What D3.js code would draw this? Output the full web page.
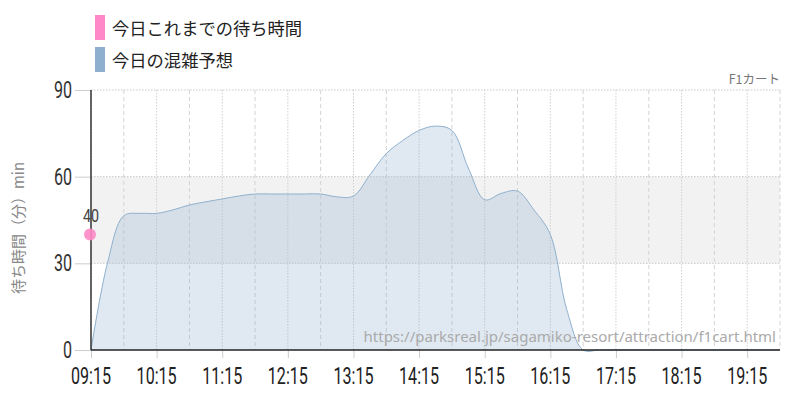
<!DOCTYPE html>
<html><head><meta charset="utf-8">
<script src="https://cdn.jsdelivr.net/npm/d3@7"></script>
<style>body{margin:0;background:#fff}svg{display:block}</style>
</head><body>
<svg id="c" width="800" height="400"></svg>
<script>
const forecastTimes = ["09:15","09:30","09:45","10:00","10:15","10:30","10:45","11:00","11:15","11:30","11:45","12:00","12:15","12:30","12:45","13:00","13:15","13:30","13:45","14:00","14:15","14:30","14:45","15:00","15:15","15:30","15:45","16:00","16:15","16:30","16:45","17:00","17:15","17:30","17:45","18:00","18:15","18:30","18:45","19:00","19:15","19:30","19:45"];
const forecastValues = [0,30,46.5,47.3,47.3,48.5,50.2,51.3,52.3,53.3,54,54,54,54,54,53,53.3,60.6,68,72.5,76,77.5,76,63,52,54.2,55,48.5,40,14,0,0,0,0,0,0,0,0,0,0,0,0,0];
const actualTimes = ["09:15"];
const actualValues = [40];
const xTickLabels = ["09:15","10:15","11:15","12:15","13:15","14:15","15:15","16:15","17:15","18:15","19:15"];
const halfHourLines = ["09:45","10:45","11:45","12:45","13:45","14:45","15:45","16:45","17:45","18:45","19:45"];
const yTicks = [0,30,60,90];
const legendLabels = ["今日これまでの待ち時間","今日の混雑予想"];
const legendColors = ["#ff88c8","#8eb0ce"];
const attractionName = "F1カート";
const yTitle = "待ち時間（分）min";
const sourceUrl = "https://parksreal.jp/sagamiko-resort/attraction/f1cart.html";

const parse = d3.timeParse("%H:%M");
const svg = d3.select("#c");
const m = {l:91, r:780, t:90, b:350};
const x = d3.scaleTime().domain([parse("09:15"), parse("19:45")]).range([m.l, m.r]);
const y = d3.scaleLinear().domain([0,90]).range([m.b, m.t]);
const cond = "Roboto, 'Liberation Sans', sans-serif";

// band
svg.append("rect").attr("x", m.l).attr("width", m.r-m.l)
  .attr("y", y(60)).attr("height", y(30)-y(60)).attr("fill","#f2f2f2");

// horizontal grid
const yAxis = d3.axisLeft(y).tickValues(yTicks).tickSize(16).tickFormat("");
const gy = svg.append("g").attr("transform",`translate(${m.l},0)`).call(yAxis);
gy.select(".domain").remove();
gy.selectAll(".tick line").attr("stroke","#ccc");
svg.append("g").selectAll("line").data(yTicks.filter(v=>v>0)).join("line")
  .attr("x1",m.l).attr("x2",m.r).attr("y1",d=>y(d)).attr("y2",d=>y(d))
  .attr("stroke","#c8c8c8").attr("stroke-dasharray","1.5,1.5");
svg.append("g").selectAll("text").data(yTicks).join("text")
  .attr("transform",d=>`translate(72,${y(d)+8}) scale(0.7,1)`)
  .attr("text-anchor","end").attr("font-family",cond).attr("font-size",23)
  .attr("fill","#333").text(d=>d);

// vertical grid
svg.append("g").selectAll("line").data(xTickLabels).join("line")
  .attr("x1",d=>x(parse(d))).attr("x2",d=>x(parse(d))).attr("y1",m.t).attr("y2",m.b)
  .attr("stroke","#cfcfcf").attr("stroke-dasharray","1.5,1.5");
svg.append("g").selectAll("line").data(halfHourLines).join("line")
  .attr("x1",d=>x(parse(d))).attr("x2",d=>x(parse(d))).attr("y1",m.t).attr("y2",m.b)
  .attr("stroke","#d4d4d4").attr("stroke-dasharray","4,3");

// x axis ticks
const xAxis = d3.axisBottom(x).tickValues(xTickLabels.map(parse)).tickSize(8).tickFormat("");
const gx = svg.append("g").attr("transform",`translate(0,${m.b})`).call(xAxis);
gx.select(".domain").remove();
gx.selectAll(".tick line").attr("stroke","#ccc");
svg.append("g").selectAll("text").data(xTickLabels).join("text")
  .attr("transform",d=>`translate(${x(parse(d))},383.5) scale(0.7,1)`)
  .attr("text-anchor","middle").attr("font-family",cond).attr("font-size",23)
  .attr("fill","#222").text(d=>d);

// area
const fdata = forecastTimes.map((t,i)=>({t:parse(t), v:forecastValues[i]}));
const area = d3.area().x(d=>x(d.t)).y0(y(0)).y1(d=>y(d.v)).curve(d3.curveCatmullRom.alpha(0.5));
const line = d3.line().x(d=>x(d.t)).y(d=>y(d.v)).curve(d3.curveCatmullRom.alpha(0.5));
svg.append("path").datum(fdata).attr("d",area).attr("fill","rgba(143,176,206,0.28)");
svg.append("path").datum(fdata).attr("d",line).attr("fill","none").attr("stroke","#8eb0ce").attr("stroke-width",1);

// axis lines
svg.append("line").attr("x1",m.l).attr("x2",m.l).attr("y1",m.t).attr("y2",m.b).attr("stroke","#333").attr("stroke-width",1.5);
svg.append("line").attr("x1",m.l).attr("x2",m.r).attr("y1",m.b).attr("y2",m.b).attr("stroke","#222").attr("stroke-width",1.5);

// watermark
svg.append("text").attr("x",776).attr("y",342).attr("text-anchor","end")
  .attr("font-family","'Noto Sans', sans-serif").attr("font-size",15).attr("fill","#aaa")
  .text(sourceUrl);

// actual points
const adata = actualTimes.map((t,i)=>({t:parse(t), v:actualValues[i]}));
svg.append("g").selectAll("circle").data(adata).join("circle")
  .attr("cx",d=>x(d.t)-1).attr("cy",d=>y(d.v)).attr("r",6).attr("fill","#ff88c8").attr("opacity",0.9);
svg.append("g").selectAll("text").data(adata).join("text")
  .attr("transform",d=>`translate(${x(d.t)},${y(d.v)-12.5}) scale(0.75,1)`)
  .attr("text-anchor","middle").attr("font-family",cond).attr("font-size",19)
  .attr("fill","#444").text(d=>d.v);

// legend
const lg = svg.append("g").selectAll("g").data(legendLabels).join("g")
  .attr("transform",(d,i)=>`translate(95,${15+i*32})`);
lg.append("rect").attr("width",10).attr("height",25).attr("fill",(d,i)=>legendColors[i]);
lg.append("text").attr("x",17).attr("y",19.5).attr("font-family","'Noto Sans CJK JP', sans-serif")
  .attr("font-size",17.3).attr("fill","#222").text(d=>d);

// attraction name
svg.append("text").attr("x",780).attr("y",84).attr("text-anchor","end")
  .attr("font-family","'Noto Sans CJK JP', sans-serif").attr("font-size",12.5).attr("fill","#777").text(attractionName);

// y title
svg.append("text").attr("transform","translate(24,228) rotate(-90)").attr("text-anchor","middle")
  .attr("font-family","'Noto Sans CJK JP', sans-serif").attr("font-size",15).attr("fill","#888").text(yTitle);
</script>
</body></html>
